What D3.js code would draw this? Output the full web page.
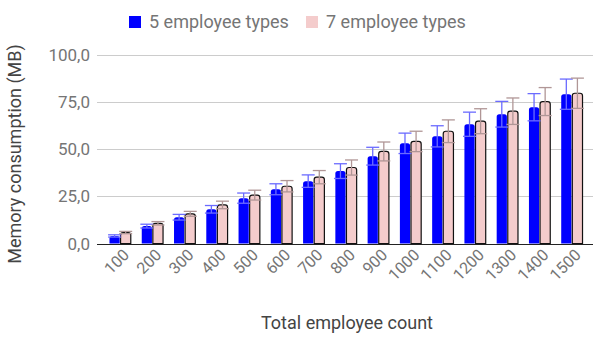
<!DOCTYPE html>
<html>
<head>
<meta charset="utf-8">
<script src="https://cdn.jsdelivr.net/npm/d3@7"></script>
<style>
  body { margin: 0; background: #fff; }
  text { font-family: Roboto, "Noto Sans", sans-serif; }
</style>
</head>
<body>
<div id="chart"></div>
<script>
// employee counts on the x axis
var counts = ["100", "200", "300", "400", "500", "600", "700", "800", "900", "1000", "1100", "1200", "1300", "1400", "1500"];
var seriesNames = ["5 employee types", "7 employee types"];

// memory (MB)
var five = [4.0, 9.2, 13.9, 18.1, 24.0, 28.7, 33.0, 38.3, 46.2, 53.0, 56.7, 63.1, 68.4, 72.1, 79.0];
var seven = [5.8, 10.7, 15.7, 20.4, 25.6, 30.3, 35.1, 40.2, 48.7, 54.0, 59.4, 64.7, 70.0, 75.1, 79.5];
// error (+/-)
var fiveErr = [0.6, 1.0, 1.5, 2.0, 2.7, 2.9, 3.3, 3.9, 4.7, 5.4, 5.6, 6.4, 6.8, 7.2, 8.0];
var sevenErr = [0.6, 0.9, 1.3, 2.0, 2.6, 3.0, 3.5, 4.0, 5.0, 5.4, 6.0, 6.6, 7.0, 7.4, 8.0];
var yTicks = [0, 25, 50, 75, 100];

var svgWidth = 600;
var svgHeight = 342;

var svg = d3.select("#chart")
  .append("svg")
  .attr("width", svgWidth)
  .attr("height", svgHeight);

var colors = ["#0000ff", "#f4cccc"];
var errColors = ["#6b6bff", "#b09696"];

var data = counts.map(function(c, i) {
  return {
    count: c,
    vals: [
      { s: 0, v: five[i], e: fiveErr[i] },
      { s: 1, v: seven[i], e: sevenErr[i] }
    ]
  };
});

var xScale = d3.scaleBand()
  .domain(counts)
  .range([104, 588])
  .paddingInner(0.34)
  .paddingOuter(0.17);

var x1 = d3.scaleBand()
  .domain([0, 1])
  .range([0, xScale.bandwidth()])
  .paddingInner(0.08);

var yScale = d3.scaleLinear()
  .domain([0, 100])
  .range([243.5, 54.5]);

var fmt = function(d) { return d3.format(".1f")(d).replace(".", ","); };

// gridlines
svg.append("g")
  .selectAll("line")
  .data(yTicks.filter(d => d > 0))
  .enter()
  .append("line")
  .attr("x1", 97)
  .attr("x2", 593)
  .attr("y1", d => Math.round(yScale(d)) + 0.5)
  .attr("y2", d => Math.round(yScale(d)) + 0.5)
  .attr("stroke", "#cccccc")
  .attr("stroke-width", 1);

// y tick labels
svg.append("g")
  .selectAll("text")
  .data(yTicks)
  .enter()
  .append("text")
  .attr("x", 90)
  .attr("y", d => yScale(d) + 6)
  .attr("text-anchor", "end")
  .attr("font-size", 17)
  .attr("fill", "#757575")
  .text(fmt);

// bars with rounded top corners
function barPath(x, y, w, h, r) {
  r = Math.min(r, h, w / 2);
  return "M" + x + "," + (y + h) +
    "V" + (y + r) +
    "Q" + x + "," + y + " " + (x + r) + "," + y +
    "H" + (x + w - r) +
    "Q" + (x + w) + "," + y + " " + (x + w) + "," + (y + r) +
    "V" + (y + h) + "Z";
}

var groups = svg.append("g")
  .selectAll("g")
  .data(data)
  .enter()
  .append("g")
  .attr("transform", d => `translate(${xScale(d.count)},0)`);

groups.selectAll("path.bar")
  .data(d => d.vals)
  .enter()
  .append("path")
  .attr("class", "bar")
  .attr("d", function(d) {
    var x = x1(d.s);
    var y = yScale(d.v);
    return barPath(x, y, x1.bandwidth(), yScale(0) - y, 2.5);
  })
  .attr("fill", d => colors[d.s])
  .attr("stroke", d => d.s == 1 ? "#111" : "none")
  .attr("stroke-width", 1.2);

// error bars
var err = groups.selectAll("g.err")
  .data(d => d.vals)
  .enter()
  .append("g")
  .attr("class", "err")
  .attr("stroke", d => errColors[d.s])
  .attr("stroke-width", 1.3);

err.append("line")
  .attr("x1", d => x1(d.s) + x1.bandwidth() / 2)
  .attr("x2", d => x1(d.s) + x1.bandwidth() / 2)
  .attr("y1", d => yScale(d.v + d.e))
  .attr("y2", d => yScale(d.v - d.e));

err.selectAll("line.cap")
  .data(d => [{ s: d.s, y: d.v + d.e }, { s: d.s, y: d.v - d.e }])
  .enter()
  .append("line")
  .attr("class", "cap")
  .attr("x1", d => x1(d.s) + x1.bandwidth() / 2 - 6.5)
  .attr("x2", d => x1(d.s) + x1.bandwidth() / 2 + 6.5)
  .attr("y1", d => yScale(d.y))
  .attr("y2", d => yScale(d.y));

// baseline
svg.append("line")
  .attr("x1", 97)
  .attr("x2", 593)
  .attr("y1", Math.round(yScale(0)) + 0.5)
  .attr("y2", Math.round(yScale(0)) + 0.5)
  .attr("stroke", "#222")
  .attr("stroke-width", 1.2);

// x tick labels, rotated
svg.append("g")
  .selectAll("text")
  .data(counts)
  .enter()
  .append("text")
  .attr("transform", d => `translate(${xScale(d) + xScale.bandwidth() / 2 + 10},${256}) rotate(-45)`)
  .attr("text-anchor", "end")
  .attr("font-size", 16)
  .attr("fill", "#757575")
  .text(d => d);

// axis titles
svg.append("text")
  .attr("x", 347)
  .attr("y", 329)
  .attr("text-anchor", "middle")
  .attr("font-size", 18)
  .attr("fill", "#444")
  .text("Total employee count");

svg.append("text")
  .attr("transform", "translate(21,154) rotate(-90)")
  .attr("text-anchor", "middle")
  .attr("font-size", 18)
  .attr("fill", "#444")
  .text("Memory consumption (MB)");

// legend
var legendX = [129, 306];
var legend = svg.append("g")
  .selectAll("g")
  .data(seriesNames)
  .enter()
  .append("g")
  .attr("transform", (d, i) => `translate(${legendX[i]},16)`);

legend.append("rect")
  .attr("width", 12)
  .attr("height", 12)
  .attr("fill", (d, i) => colors[i]);

legend.append("text")
  .attr("x", 20)
  .attr("y", 12)
  .attr("font-size", 18)
  .attr("fill", "#757575")
  .text(d => d);
</script>
</body>
</html>
